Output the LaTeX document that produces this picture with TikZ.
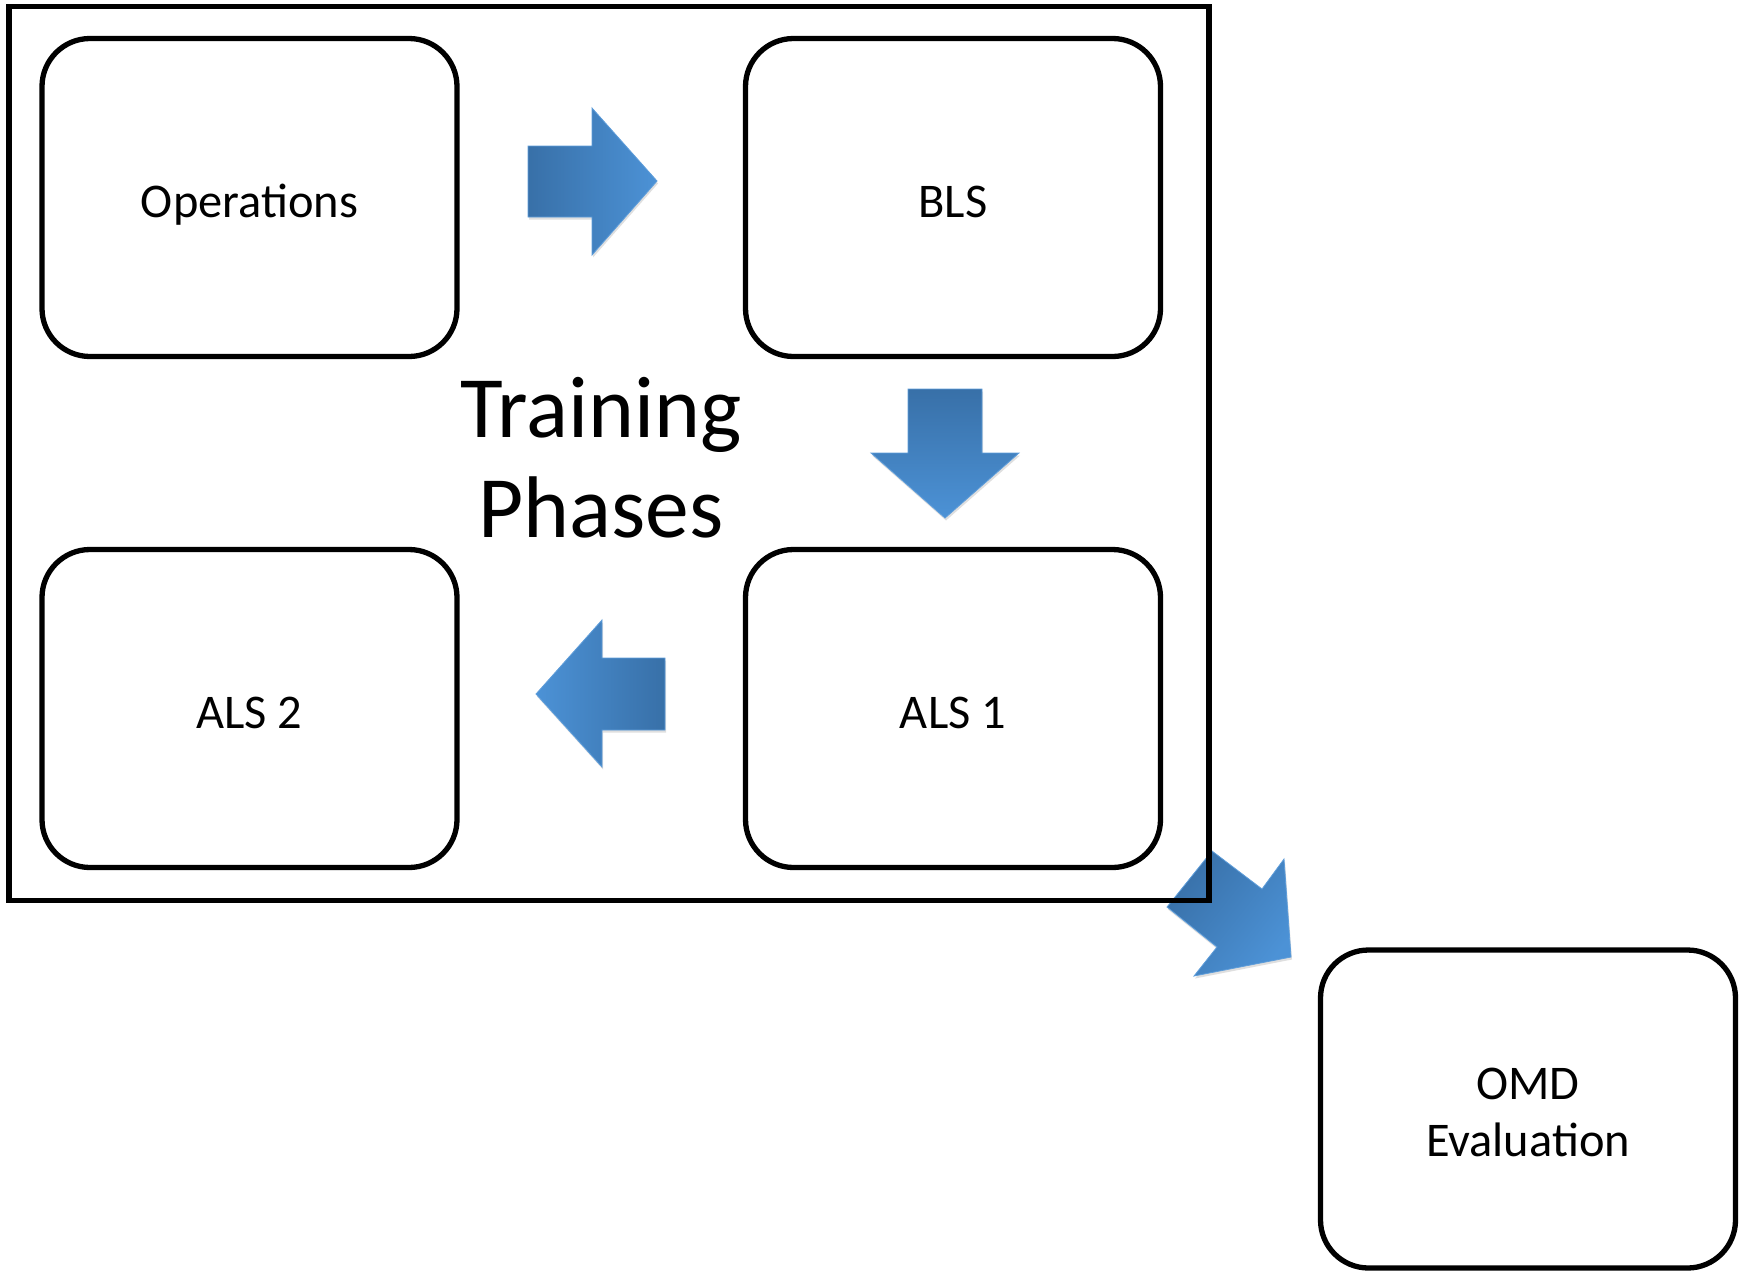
\documentclass[tikz,border=0pt]{standalone}
\usepackage{fontspec}
\setmainfont{Carlito}
\usetikzlibrary{shadows}
\definecolor{adark}{RGB}{56,112,168}
\definecolor{alight}{RGB}{76,146,214}
\begin{document}
\begin{tikzpicture}[x=1pt,y=-1pt,
  phase/.style={draw, line width=5.3pt, rounded corners=48pt, minimum width=415pt,
    minimum height=318pt, inner sep=0pt, font=\fontsize{48.4}{57}\selectfont, align=center},
  oneline/.style={text height=40pt, text depth=0pt},
  blockarrow/.style={draw=alight!90!white, line width=0.8pt, line join=miter,
    drop shadow={opacity=0.25, shadow xshift=1pt, shadow yshift=-2.5pt}},
  frame/.style={draw, line width=5.5pt, line join=miter, inner sep=0pt}]
\useasboundingbox (0,0) rectangle (1739,1272);
\fill[white] (0,0) rectangle (1739,1272);

% diagonal arrow (drawn under the frame)
\shade[blockarrow, shading=axis, top color=alight, bottom color=adark, shading angle=-128]
  (1212,851) -- (1262,889) -- (1284,859) -- (1291,957) -- (1194,976) -- (1217,947) -- (1167,907) -- cycle;

\node[frame, minimum width=1199.8pt, minimum height=894pt] (frame) at (609.1,453.5) {};

\node[phase, oneline] (ops)  at (249.5,197.5) {Operations};
\node[phase, oneline] (bls)  at (953,197.5)   {BLS};
\node[phase, oneline] (als1) at (953,708.5)   {ALS 1};
\node[phase, oneline] (als2) at (249.5,708.5) {ALS 2};
\node[phase] (omd) at (1528,1109) {\rule{0pt}{39pt}OMD\\Evaluation};

\node[font=\fontsize{87.5}{100}\selectfont, align=center, inner sep=0pt] (title) at (601,458) {Training\\Phases};

% right arrow
\shade[blockarrow, left color=adark, right color=alight]
  (528,146) -- (592,146) -- (592,108) -- (657,181) -- (592,255) -- (592,217) -- (528,217) -- cycle;
% down arrow
\shade[blockarrow, top color=adark, bottom color=alight]
  (908,389) -- (982,389) -- (982,453) -- (1019,453) -- (945,518) -- (871,453) -- (908,453) -- cycle;
% left arrow
\shade[blockarrow, left color=alight, right color=adark]
  (665,658) -- (602,658) -- (602,620) -- (536,694) -- (602,767) -- (602,730) -- (665,730) -- cycle;
\end{tikzpicture}
\end{document}
